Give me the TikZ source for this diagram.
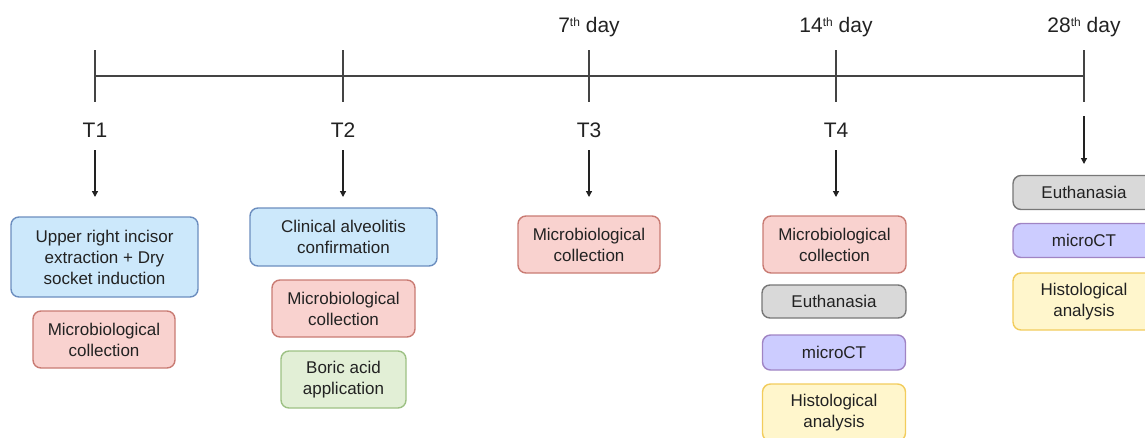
\documentclass[tikz,border=0pt]{standalone}
\usepackage{fontspec}
\setmainfont{Liberation Sans}
\usetikzlibrary{arrows.meta}
\definecolor{bluefill}{HTML}{CCE8FB}
\definecolor{blueline}{HTML}{6C8EBF}
\definecolor{redfill}{HTML}{F9D2CF}
\definecolor{redline}{HTML}{C97B73}
\definecolor{greenfill}{HTML}{E2EFD6}
\definecolor{greenline}{HTML}{9DC184}
\definecolor{grayfill}{HTML}{D9D9D9}
\definecolor{grayline}{HTML}{777777}
\definecolor{purplefill}{HTML}{CCCCFF}
\definecolor{purpleline}{HTML}{A084C4}
\definecolor{yellowfill}{HTML}{FFF6CC}
\definecolor{yellowline}{HTML}{F2CC5C}
\definecolor{axis}{HTML}{444444}
\definecolor{txt}{HTML}{222222}
\newcommand{\thsup}{\raisebox{0.55ex}{\fontsize{12}{12}\selectfont th}}
\tikzset{
  box/.style={rounded corners=8pt, line width=1.4pt, align=center, inner sep=0pt,
    font=\fontsize{17}{21}\selectfont, text=txt},
  bluebox/.style={box, fill=bluefill, draw=blueline},
  redbox/.style={box, fill=redfill, draw=redline},
  greenbox/.style={box, fill=greenfill, draw=greenline},
  graybox/.style={box, fill=grayfill, draw=grayline},
  purplebox/.style={box, fill=purplefill, draw=purpleline},
  yellowbox/.style={box, fill=yellowfill, draw=yellowline},
  tlabel/.style={font=\fontsize{21}{24}\selectfont, text=txt},
  axisline/.style={draw=axis, line width=2pt},
  tickline/.style={draw=axis, line width=1.6pt},
  arr/.style={draw=txt, line width=1.3pt, -{Triangle[length=6pt,width=6pt]}}
}
\begin{document}
\begin{tikzpicture}[x=1pt,y=-1pt]
\useasboundingbox (0,0) rectangle (1145,437);
\clip (0,0) rectangle (1145,437);
% timeline
\coordinate (L) at (95,76);
\coordinate (R) at (1084,76);
\draw[axisline] (L) -- (R);
\foreach \x/\n in {95/a,343/b,589/c,836/d,1084/e}{
  \coordinate (tt\n) at (\x,50);
  \coordinate (tb\n) at (\x,102);
  \draw[tickline] (tt\n) -- (tb\n);
}
% labels
\node[tlabel] (T1) at (95,130) {T1};
\node[tlabel] (T2) at (343,130) {T2};
\node[tlabel] (T3) at (589,130) {T3};
\node[tlabel] (T4) at (836,130) {T4};
\node[tlabel] (d7) at (589,27) {7\thsup\ day};
\node[tlabel] (d14) at (836,27) {14\thsup\ day};
\node[tlabel] (d28) at (1084,27) {28\thsup\ day};
% arrow coordinates
\coordinate (a1s) at (95,150);  \coordinate (a1e) at (95,197);
\coordinate (a2s) at (343,150); \coordinate (a2e) at (343,197);
\coordinate (a3s) at (589,150); \coordinate (a3e) at (589,197);
\coordinate (a4s) at (836,150); \coordinate (a4e) at (836,197);
\coordinate (a5s) at (1084,116); \coordinate (a5e) at (1084,164);
\foreach \i in {1,...,5}{\draw[arr] (a\i s) -- (a\i e);}
% T1 boxes
\node[bluebox, minimum width=187pt, minimum height=80pt] (b1) at (104.5,257)
  {Upper right incisor\\extraction + Dry\\socket induction};
\node[redbox, minimum width=142pt, minimum height=57pt] (r1) at (104,339.5)
  {Microbiological\\collection};
% T2 boxes
\node[bluebox, minimum width=187pt, minimum height=58pt] (b2) at (343.5,237)
  {Clinical alveolitis\\confirmation};
\node[redbox, minimum width=143pt, minimum height=57pt] (r2) at (343.5,308.5)
  {Microbiological\\collection};
\node[greenbox, minimum width=125pt, minimum height=57pt] (g2) at (343.5,379.5)
  {Boric acid\\application};
% T3 box
\node[redbox, minimum width=142pt, minimum height=57pt] (r3) at (589,244.5)
  {Microbiological\\collection};
% T4 boxes
\node[redbox, minimum width=143pt, minimum height=57pt] (r4) at (834.5,244.5)
  {Microbiological\\collection};
\node[graybox, minimum width=144pt, minimum height=33pt] (e4) at (834,301.5)
  {Euthanasia};
\node[purplebox, minimum width=143pt, minimum height=35pt] (m4) at (834,352.5)
  {microCT};
\node[yellowbox, minimum width=143pt, minimum height=57pt] (h4) at (834,412.5)
  {Histological\\analysis};
% 28th day boxes
\node[graybox, minimum width=142pt, minimum height=34pt] (e5) at (1084,192.5)
  {Euthanasia};
\node[purplebox, minimum width=142pt, minimum height=34pt] (m5) at (1084,240.5)
  {microCT};
\node[yellowbox, minimum width=142pt, minimum height=57pt] (h5) at (1084,301.5)
  {Histological\\analysis};
\end{tikzpicture}
\end{document}
